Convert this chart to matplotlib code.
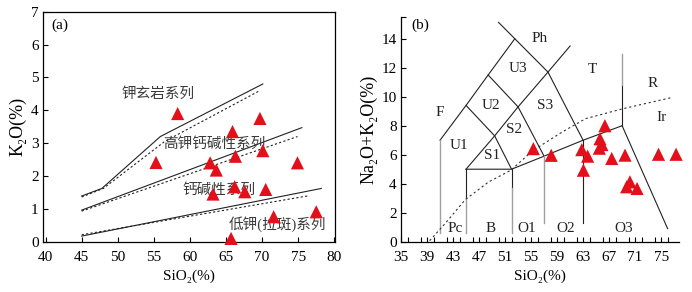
import matplotlib
matplotlib.use("Agg")
import matplotlib.pyplot as plt
from matplotlib.ticker import MultipleLocator

# ---------------- data: panel (a) SiO2-K2O ----------------
a_sio2 = [58.3, 55.3, 65.9, 69.7, 70.1, 66.3, 62.8, 63.65, 74.9, 66.2, 67.6, 63.2, 70.5, 71.6, 77.5, 65.7]
a_k2o = [3.9, 2.41, 3.35, 3.75, 2.77, 2.6, 2.4, 2.18, 2.4, 1.67, 1.52, 1.45, 1.59, 0.76, 0.91, 0.1]

a_solid_1 = [(45, 1.39), (47.8, 1.62), (55.9, 3.2), (70.1, 4.8)]
a_dash_1 = [(45, 1.36), (48, 1.62), (56.5, 3.05), (69.7, 4.6)]
a_solid_2 = [(45, 0.96), (75.5, 3.47)]
a_dash_2 = [(45, 0.93), (74.9, 3.2)]
a_solid_3 = [(45, 0.17), (78.2, 1.62)]
a_dash_3 = [(45, 0.21), (76.5, 1.4)]

a_labels = ["钾玄岩系列", "高钾钙碱性系列", "钙碱性系列", "低钾(拉斑)系列"]
a_label_pos = [(50.55, 4.48), (56.3, 2.97), (58.9, 1.57), (65.4, 0.54)]

a_xticks = [40, 45, 50, 55, 60, 65, 70, 75, 80]
a_yticks = [0, 1, 2, 3, 4, 5, 6, 7]

# ---------------- data: panel (b) TAS ----------------
b_sio2 = [55.35, 58.1, 62.8, 63.7, 63.05, 66.35, 65.6, 65.9, 65.5, 67.4, 69.45, 74.6, 77.3, 70.2, 69.7, 71.3]
b_alk = [6.42, 5.96, 6.35, 5.9, 4.93, 8.0, 7.1, 6.7, 6.45, 5.74, 5.97, 6.03, 6.03, 4.13, 3.79, 3.67]

tas_black = [
    [(41, 7), (45, 9.4), (48.4, 11.5), (52.5, 14), (50, 15.13)],
    [(52.5, 14), (57.6, 11.7), (63, 7)],
    [(45, 5), (52, 5), (57, 5.9), (63, 7), (69, 8)],
    [(45, 5), (49.4, 7.3), (53, 9.3), (57.6, 11.7), (61, 13.5)],
    [(45, 9.4), (49.4, 7.3), (52, 5)],
    [(48.4, 11.5), (53, 9.3), (57, 5.9)],
    [(45, 5), (45, 3.0)],
    [(52, 5), (52, 3.7)],
    [(63, 7), (63, 1.26)],
    [(69, 8), (69, 10.8)],
    [(69, 8), (76, 0.9)],
]
tas_grey = [
    [(41, 7), (41, 0.57)],
    [(45, 3.0), (45, 0.57)],
    [(52, 3.7), (52, 0.57)],
    [(57, 5.9), (57, 1.26)],
    [(69, 10.8), (69, 12.96)],
]
ib_curve = [(39.4, 0.07), (41.8, 1.26), (44.9, 2.91), (48.5, 4.13), (51.9, 4.93),
            (55.2, 6.26), (59.8, 7.57), (63.4, 8.49), (69.1, 9.17), (76.5, 9.93)]

b_labels = ["F", "U1", "S1", "U2", "S2", "S3", "U3", "Ph", "T", "R", "Ir",
            "Pc", "B", "O1", "O2", "O3"]
b_label_pos = [(40.9, 8.94), (43.9, 6.65), (49.0, 5.96), (48.8, 9.4), (52.4, 7.73),
               (57.1, 9.4), (53.0, 11.93), (56.3, 14.0), (64.4, 11.86), (73.7, 10.9),
               (75.0, 8.6), (43.3, 0.92), (48.8, 0.92), (54.4, 0.92), (60.4, 0.92),
               (69.3, 0.92)]

b_xticks = [35, 39, 43, 47, 51, 55, 59, 63, 67, 71, 75]
b_yticks = [0, 2, 4, 6, 8, 10, 12, 14]

# ---------------- style ----------------
SERIF = ['Liberation Serif', 'DejaVu Serif']
MIX = ['Liberation Serif', 'Noto Sans CJK SC', 'DejaVu Sans']
RED = '#e3101c'
plt.rcParams['font.family'] = SERIF
plt.rcParams['font.size'] = 11

fig = plt.figure(figsize=(6.92, 2.92), dpi=100)

# ---------------- panel (a) ----------------
axa = fig.add_axes([0.0617, 0.1723, 0.4224, 0.7877])
for pts, ls in [(a_solid_1, '-'), (a_dash_1, (0, (2, 2))), (a_solid_2, '-'),
                (a_dash_2, (0, (2, 2))), (a_solid_3, '-'), (a_dash_3, (0, (2, 2)))]:
    xs, ys = zip(*pts)
    axa.plot(xs, ys, color='#222222', lw=0.8, ls=ls, zorder=2)
for t, (x, y) in zip(a_labels, a_label_pos):
    axa.text(x, y, t, family=MIX, fontsize=10.5, ha='left', va='center',
             color='#3a3a3a', zorder=3)
axa.scatter(a_sio2, a_k2o, marker='^', s=90, color=RED, edgecolors='none', zorder=4,
            clip_on=False)
axa.text(40.8, 6.6, "(a)", ha='left', va='center', fontsize=11)
axa.set_xlim(39.6, 80.1)
axa.set_ylim(0, 7)
axa.set_xticks(a_xticks)
axa.set_yticks(a_yticks)
axa.tick_params(direction='in', length=3.5, width=0.8, pad=3)
axa.tick_params(axis='x', pad=6.5)
axa.set_xlabel("SiO₂(%)", fontsize=11, labelpad=4)
axa.set_ylabel("K₂O(%)", fontsize=13, labelpad=3)
for s in axa.spines.values():
    s.set_linewidth(0.9)

# ---------------- panel (b) ----------------
axb = fig.add_axes([0.5795, 0.1723, 0.4022, 0.7695])
for pts in tas_black:
    xs, ys = zip(*pts)
    axb.plot(xs, ys, color='#222222', lw=0.8, zorder=2)
for pts in tas_grey:
    xs, ys = zip(*pts)
    axb.plot(xs, ys, color='#a0a0a0', lw=1.0, zorder=2)
xs, ys = zip(*ib_curve)
axb.plot(xs, ys, color='#333333', lw=0.8, ls=(0, (2, 2.5)), zorder=2)
for t, (x, y) in zip(b_labels, b_label_pos):
    axb.text(x, y, t, ha='center', va='center', fontsize=11, color='#222222', zorder=3)
axb.scatter(b_sio2, b_alk, marker='^', s=90, color=RED, edgecolors='none', zorder=4,
            clip_on=False)
axb.text(36.6, 14.9, "(b)", ha='left', va='center', fontsize=11)
axb.set_xlim(35, 77.8)
axb.set_ylim(0, 15.5)
axb.set_xticks(b_xticks)
axb.xaxis.set_minor_locator(MultipleLocator(2))
axb.set_yticks(b_yticks)
axb.set_yticks([15.5], minor=True)
axb.tick_params(which='both', direction='in', length=3.5, width=0.8, pad=3)
axb.tick_params(axis='x', which='both', pad=6.5)
axb.spines['top'].set_visible(False)
axb.spines['right'].set_visible(False)
for s in ['left', 'bottom']:
    axb.spines[s].set_linewidth(0.9)
axb.set_xlabel("SiO₂(%)", fontsize=11, labelpad=4)
axb.set_ylabel("Na₂O+K₂O(%)", fontsize=13, labelpad=3)

fig.savefig("out.png", dpi=100)
